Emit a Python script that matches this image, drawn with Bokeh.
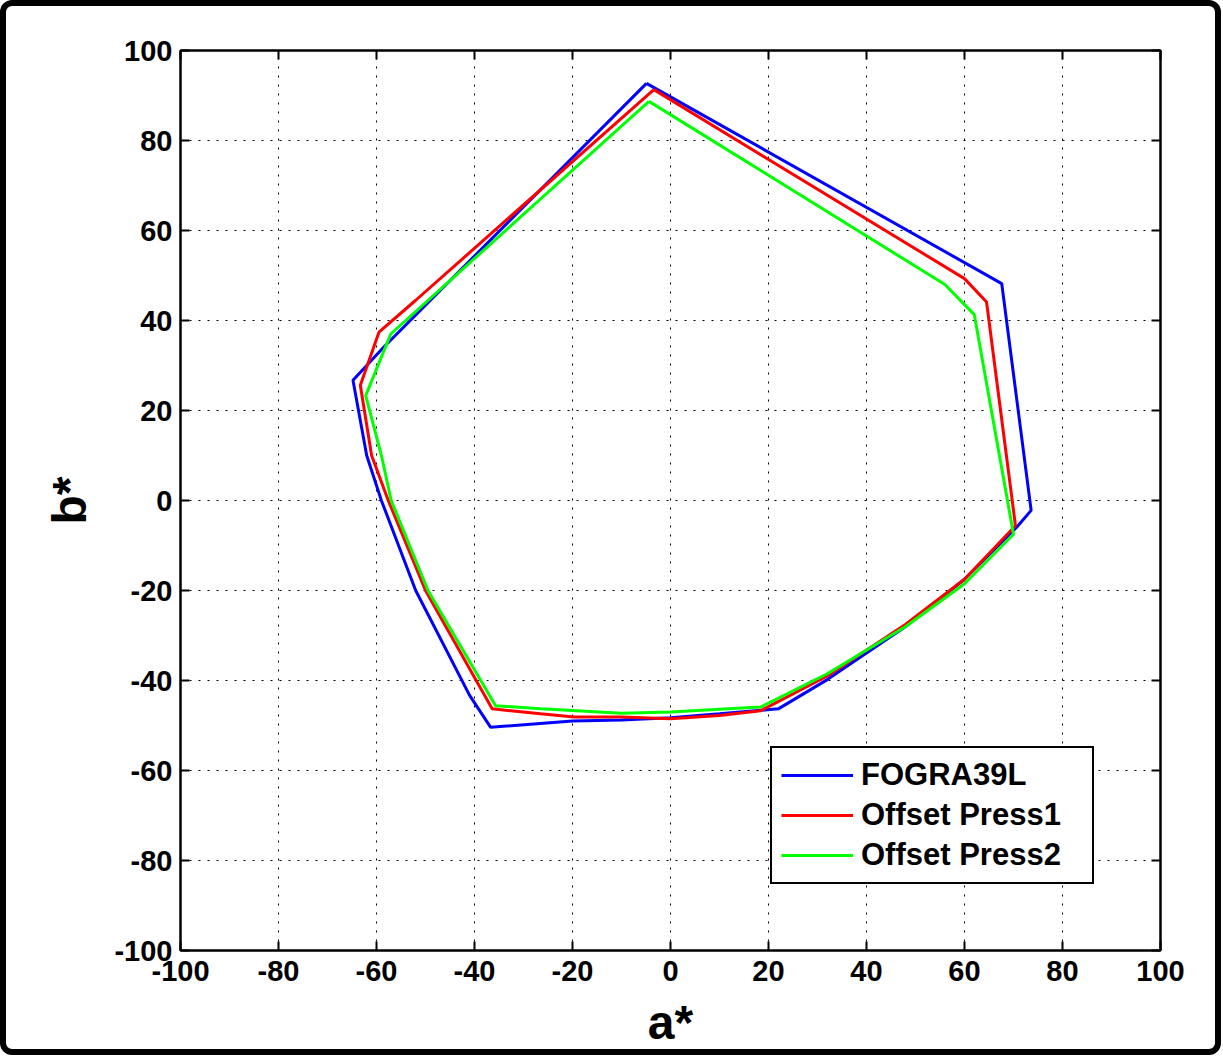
from bokeh.plotting import figure
from bokeh.models import Range1d, FixedTicker, LinearAxis, Legend, LegendItem
from bokeh.embed import file_html
from bokeh.resources import INLINE

# ---- data (a*, b*) gamut boundaries ----
fogra_a = [-4.9, 67.6, 73.6, 70.7, 60.0, 48.0, 32.0, 22.0, 10.0, 0.0, -10.0, -20.0, -36.7, -41.0, -52.0, -59.0, -62.0, -64.8, -58.5, -4.9]
fogra_b = [92.7, 48.2, -2.2, -5.9, -17.5, -28.0, -39.8, -46.3, -47.4, -48.3, -48.8, -49.0, -50.4, -43.3, -20.0, 0.0, 10.0, 26.7, 34.1, 92.7]

press1_a = [-3.4, 60.0, 64.5, 70.4, 60.0, 48.0, 32.0, 18.4, 10.0, 0.0, -10.0, -19.7, -26.5, -36.4, -50.0, -57.6, -61.0, -63.3, -59.5, -52.0, -3.4]
press1_b = [91.3, 49.3, 44.1, -5.6, -17.5, -27.5, -39.0, -46.7, -47.8, -48.5, -48.1, -48.1, -47.4, -46.3, -20.0, 0.0, 10.0, 25.6, 37.4, 44.5, 91.3]

press2_a = [-4.4, 56.0, 62.0, 70.0, 60.0, 48.0, 32.0, 18.4, 10.0, 0.0, -10.0, -26.5, -35.7, -49.5, -57.0, -59.0, -62.2, -57.1, -4.4]
press2_b = [88.7, 48.0, 41.3, -7.5, -18.5, -28.0, -38.5, -45.9, -46.4, -47.0, -47.3, -46.3, -45.6, -20.0, 0.0, 10.0, 23.3, 37.0, 88.7]

series_names = ["FOGRA39L", "Offset Press1", "Offset Press2"]
series_colors = ["#0000ff", "#ff0000", "#00ff00"]
ticks = [-100, -80, -60, -40, -20, 0, 20, 40, 60, 80, 100]
tick_labels = ["-100", "-80", "-60", "-40", "-20", "0", "20", "40", "60", "80", "100"]

FONT = "Liberation Sans"

p = figure(width=1221, height=1055,
           x_range=Range1d(-100, 100), y_range=Range1d(-100, 100),
           output_backend="svg", toolbar_location=None,
           min_border_left=180, min_border_right=61,
           min_border_top=50, min_border_bottom=105)
p.border_fill_alpha = 0
p.background_fill_color = "white"
p.styles = {"box-shadow": "inset 0 0 0 6px black", "border-radius": "12px",
            "background-color": "white"}
p.outline_line_color = "black"
p.outline_line_width = 2

for ax in (p.xaxis[0], p.yaxis[0]):
    ax.ticker = FixedTicker(ticks=ticks)
    ax.major_label_overrides = dict(zip(ticks, tick_labels))
    ax.major_tick_in = 9
    ax.major_tick_out = 0
    ax.minor_tick_line_color = None
    ax.axis_line_width = 2
    ax.major_tick_line_width = 2
    ax.major_label_text_font = FONT
    ax.major_label_text_font_style = "bold"
    ax.major_label_text_font_size = "29px"
    ax.major_label_text_color = "black"
    ax.axis_label_text_font = FONT
    ax.axis_label_text_font_style = "bold"
    ax.axis_label_text_font_size = "48px"
    ax.axis_label_text_color = "black"

p.xaxis.axis_label = "a*"
p.yaxis.axis_label = "b*"
p.xaxis.major_label_standoff = 10
p.yaxis.major_label_standoff = 8
p.xaxis.axis_label_standoff = 12
p.yaxis.axis_label_standoff = 15

for side in ("above", "right"):
    ax = LinearAxis(ticker=FixedTicker(ticks=ticks),
                    major_label_overrides={t: "" for t in ticks})
    ax.major_tick_in = 9
    ax.major_tick_out = 0
    ax.minor_tick_line_color = None
    ax.axis_line_width = 2
    ax.major_tick_line_width = 2
    p.add_layout(ax, side)

for g in (p.xgrid[0], p.ygrid[0]):
    g.ticker = FixedTicker(ticks=ticks)
    g.grid_line_color = "black"
    g.grid_line_dash = "2 7"
    g.grid_line_width = 1

r1 = p.line(fogra_a, fogra_b, line_color=series_colors[0], line_width=3)
r2 = p.line(press1_a, press1_b, line_color=series_colors[1], line_width=3)
r3 = p.line(press2_a, press2_b, line_color=series_colors[2], line_width=3)

legend = Legend(items=[LegendItem(label=series_names[0], renderers=[r1]),
                       LegendItem(label=series_names[1], renderers=[r2]),
                       LegendItem(label=series_names[2], renderers=[r3])],
                location=(590, 66))
legend.label_text_font = FONT
legend.label_text_font_style = "bold"
legend.label_text_font_size = "31px"
legend.label_text_color = "black"
legend.glyph_width = 72
legend.glyph_height = 30
legend.label_height = 30
legend.label_width = 222
legend.label_standoff = 8
legend.padding = 9
legend.spacing = 4
legend.margin = 0
legend.border_line_color = "black"
legend.border_line_alpha = 1
legend.border_line_width = 2.5
legend.background_fill_color = "white"
legend.background_fill_alpha = 1
p.add_layout(legend)

open("out.html", "w").write(file_html(p, INLINE))
